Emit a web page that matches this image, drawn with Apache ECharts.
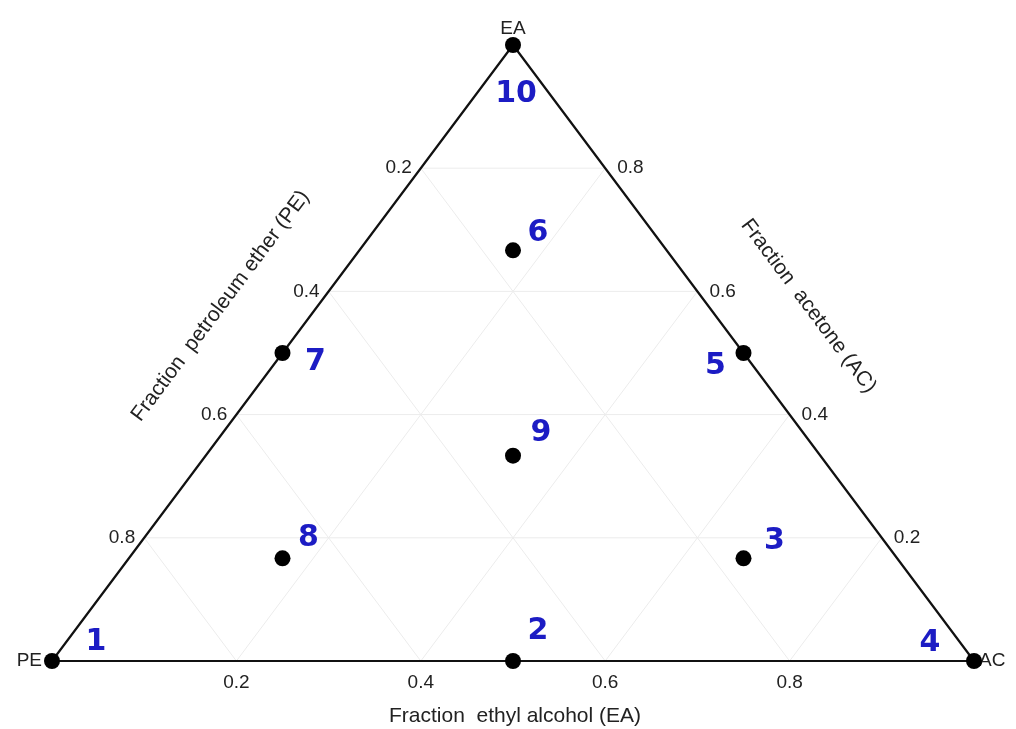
<!DOCTYPE html>
<html>
<head>
<meta charset="utf-8">
<script src="https://cdn.jsdelivr.net/npm/echarts@6/dist/echarts.min.js"></script>
<style>
html,body{margin:0;padding:0;background:#fff;}
#chart{width:1016px;height:729px;}
</style>
</head>
<body>
<div id="chart"></div>
<script>
// ---- data (ternary compositions: PE, AC, EA) ----
const pointLabels = ['1','2','3','4','5','6','7','8','9','10'];
const fracPE = [1, 0.5, 1/6, 0, 0, 1/6, 0.5, 2/3, 1/3, 0];
const fracAC = [0, 0.5, 2/3, 1, 0.5, 1/6, 0, 1/6, 1/3, 0];
const fracEA = [0, 0, 1/6, 0, 0.5, 2/3, 0.5, 1/6, 1/3, 1];
const gridValues = [0.2, 0.4, 0.6, 0.8];
const bottomTicks = ['0.2', '0.4', '0.6', '0.8'];
const leftTicks = ['0.2', '0.4', '0.6', '0.8'];
const rightTicks = ['0.2', '0.4', '0.6', '0.8'];
const vertexNames = ['PE', 'AC', 'EA'];
const titleBottom = 'Fraction  ethyl alcohol (EA)';
const titleLeft = 'Fraction  petroleum ether (PE)';
const titleRight = 'Fraction  acetone (AC)';

// ---- styling ----
const labelOffsets = [[44,-19],[25,-30],[31,-17],[-44,-18],[-28,13],[25,-17],[33,9],[26,-20],[28,-22],[3,49]];
const FONT = 'Liberation Sans';

// ternary -> cartesian (x = AC + EA/2, y = EA)
function tern(pe, ac, ea) { return [ac + ea / 2, ea]; }

const series = [];

// grid lines
const gridStyle = { color: '#ececec', width: 1 };
gridValues.forEach(k => {
  series.push({ type: 'line', data: [tern(1-k,0,k), tern(0,1-k,k)] });   // EA constant
  series.push({ type: 'line', data: [tern(1-k,k,0), tern(0,k,1-k)] });   // AC constant
  series.push({ type: 'line', data: [tern(k,1-k,0), tern(k,0,1-k)] });   // PE constant
});
series.forEach(s => { s.symbol = 'none'; s.silent = true; s.lineStyle = gridStyle; s.z = 1; });

// triangle outline
series.push({
  type: 'line', symbol: 'none', silent: true, z: 2,
  lineStyle: { color: '#111', width: 2.2 },
  data: [tern(1,0,0), tern(0,1,0), tern(0,0,1), tern(1,0,0)]
});

// tick labels
const tickLabel = { show: true, color: '#222', fontFamily: FONT, fontSize: 19, opacity: 1 };
series.push({
  type: 'scatter', symbolSize: 0, silent: true, z: 3,
  label: Object.assign({}, tickLabel, { position: 'bottom', distance: 12, formatter: p => p.name }),
  data: bottomTicks.map(t => { const v = parseFloat(t); return { name: t, value: tern(1-v, v, 0) }; })
});
series.push({
  type: 'scatter', symbolSize: 0, silent: true, z: 3,
  label: Object.assign({}, tickLabel, { position: 'left', distance: 9, formatter: p => p.name }),
  data: leftTicks.map(t => { const v = parseFloat(t); return { name: t, value: tern(v, 0, 1-v) }; })
});
series.push({
  type: 'scatter', symbolSize: 0, silent: true, z: 3,
  label: Object.assign({}, tickLabel, { position: 'right', distance: 12, formatter: p => p.name }),
  data: rightTicks.map(t => { const v = parseFloat(t); return { name: t, value: tern(0, 1-v, v) }; })
});

// vertex names
const vertexPos = ['left', 'right', 'top'];
const vertexDist = [10, 5, 7];
series.push({
  type: 'scatter', symbolSize: 0, silent: true, z: 3,
  data: vertexNames.map((n, i) => ({
    name: n,
    value: tern(i === 0 ? 1 : 0, i === 1 ? 1 : 0, i === 2 ? 1 : 0),
    label: { show: true, position: vertexPos[i], distance: vertexDist[i], formatter: n,
             color: '#222', fontFamily: FONT, fontSize: 19, opacity: 1 }
  }))
});

// points
series.push({
  type: 'scatter', symbolSize: 16, z: 5, silent: true,
  itemStyle: { color: '#000', opacity: 1 },
  data: pointLabels.map((lab, i) => ({
    name: lab,
    value: tern(fracPE[i], fracAC[i], fracEA[i]),
    label: { show: true, position: 'inside', offset: labelOffsets[i], formatter: lab, opacity: 1,
             color: '#1c1cc4', fontFamily: 'DejaVu Sans', fontWeight: 'bold', fontSize: 30 }
  }))
});

const chart = echarts.init(document.getElementById('chart'));
chart.setOption({
  animation: false,
  backgroundColor: '#fff',
  grid: { left: 52, right: 42, top: 45, bottom: 68 },
  xAxis: { type: 'value', min: 0, max: 1, show: false },
  yAxis: { type: 'value', min: 0, max: 1, show: false },
  series: series
});

// axis titles, placed from edge midpoints through the chart's own scale
const mb = chart.convertToPixel({ gridIndex: 0 }, tern(0.5, 0.5, 0));
const ml = chart.convertToPixel({ gridIndex: 0 }, tern(0.5, 0, 0.5));
const mr = chart.convertToPixel({ gridIndex: 0 }, tern(0, 0.5, 0.5));
const p0 = chart.convertToPixel({ gridIndex: 0 }, tern(1, 0, 0));
const p2 = chart.convertToPixel({ gridIndex: 0 }, tern(0, 0, 1));
const ang = Math.atan2(p0[1] - p2[1], p2[0] - p0[0]);
const titleStyle = { fill: '#222', font: '21px "Liberation Sans"', align: 'center', verticalAlign: 'middle' };
chart.setOption({
  graphic: [
    { type: 'text', x: mb[0] + 2, y: mb[1] + 55, style: Object.assign({ text: titleBottom }, titleStyle) },
    { type: 'text', x: ml[0] - 62, y: ml[1] - 47, rotation: ang, style: Object.assign({ text: titleLeft }, titleStyle) },
    { type: 'text', x: mr[0] + 65, y: mr[1] - 47, rotation: -ang, style: Object.assign({ text: titleRight }, titleStyle) }
  ]
});
</script>
</body>
</html>
